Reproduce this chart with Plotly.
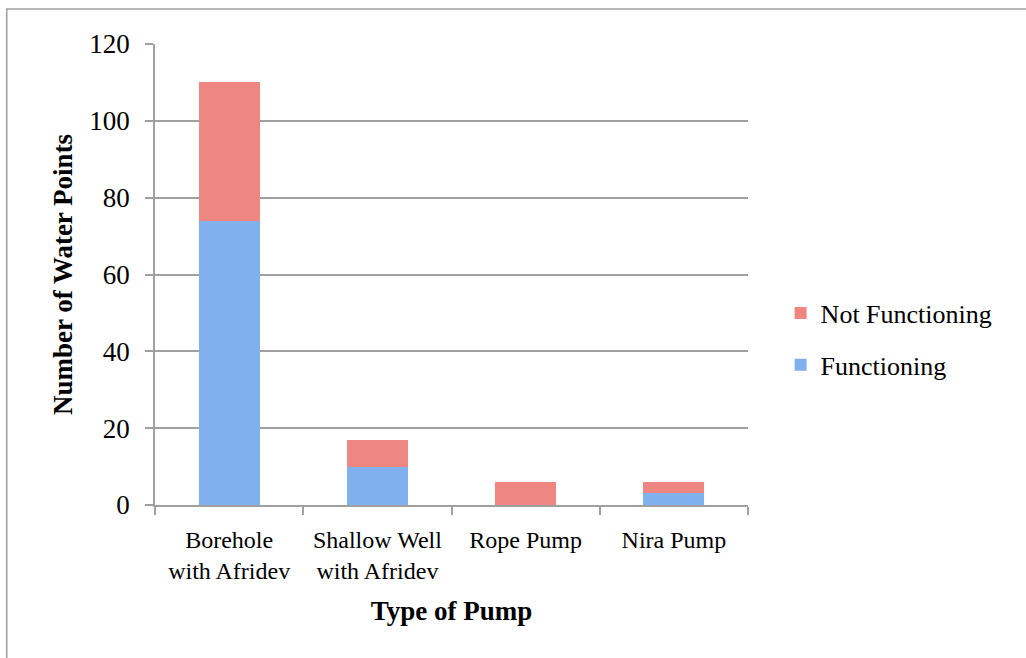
import plotly.graph_objects as go

categories = ["Borehole<br>with Afridev", "Shallow Well<br>with Afridev", "Rope Pump", "Nira Pump"]
functioning = [74, 10, 0, 3]
not_functioning = [36, 7, 6, 3]
y_ticks = [0, 20, 40, 60, 80, 100, 120]

FONT = "Liberation Serif"

fig = go.Figure()
fig.add_trace(go.Bar(
    x=categories, y=functioning, name="Functioning", legendgroup="f", legendrank=2,
    marker=dict(color="#80B1EE", line=dict(width=0)), width=0.41,
))
fig.add_trace(go.Bar(
    x=categories, y=not_functioning, name="Not Functioning", legendgroup="n", legendrank=1,
    marker=dict(color="#EE8682", line=dict(width=0)), width=0.41,
))

fig.update_layout(
    barmode="stack",
    width=1026, height=658,
    margin=dict(l=155, r=278, t=44, b=153),
    paper_bgcolor="white", plot_bgcolor="white",
    font=dict(family=FONT, color="black", size=22),
    showlegend=True,
    legend=dict(
        x=1.055, y=0.36, xanchor="left", yanchor="middle",
        traceorder="grouped", tracegroupgap=15,
        font=dict(family=FONT, size=26),
        itemwidth=30,
    ),
    xaxis=dict(
        showline=True, linecolor="#A0A0A0", linewidth=1.5,
        ticks="outside", tickson="boundaries", ticklen=8, tickcolor="#A0A0A0", tickwidth=1.5,
        tickfont=dict(family=FONT, size=24), ticklabelstandoff=12,
        title=dict(text="<b>Type of Pump</b>", font=dict(family=FONT, size=27), standoff=18),
    ),
    yaxis=dict(
        range=[0, 120], tickvals=y_ticks,
        showline=True, linecolor="#A0A0A0", linewidth=1.5,
        showgrid=True, gridcolor="#A0A0A0", gridwidth=1.5,
        ticks="outside", ticklen=8, tickcolor="#A0A0A0", tickwidth=1.5,
        tickfont=dict(family=FONT, size=27), ticklabelstandoff=10,
        zeroline=False,
        title=dict(text="<b>Number of Water Points</b>", font=dict(family=FONT, size=27), standoff=9),
    ),
    shapes=[dict(
        type="rect", xref="paper", yref="paper",
        x0=-0.25, x1=1.6, y0=-0.5, y1=1.076,
        line=dict(color="#A0A0A0", width=1.5), fillcolor="rgba(0,0,0,0)", layer="below",
    )],
)

fig.write_html("out.html")
